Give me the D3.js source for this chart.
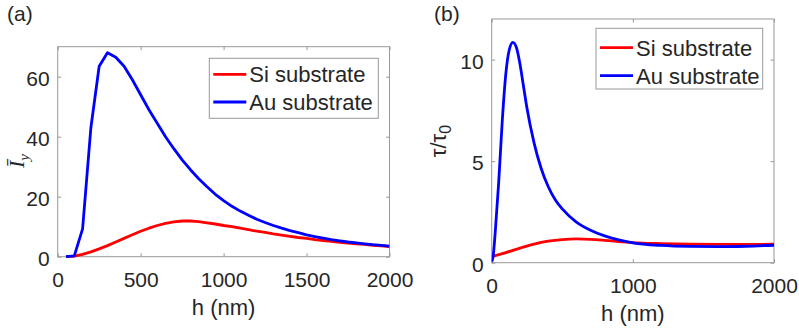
<!DOCTYPE html>
<html>
<head>
<meta charset="utf-8">
<script src="https://cdn.jsdelivr.net/npm/d3@7"></script>
<style>
  body { margin: 0; background: #fff; }
  text { font-family: "Liberation Sans", Arial, sans-serif; fill: #262626; }
</style>
</head>
<body>
<svg id="chart" width="799" height="333"></svg>
<script>
// Panel (a): integrated intensity vs thickness
const hA = [50, 100, 150, 200, 250, 300, 350, 400, 450, 500, 550, 600, 650, 700, 750, 800, 850, 900, 950, 1000,
            1050, 1100, 1150, 1200, 1250, 1300, 1350, 1400, 1450, 1500, 1550, 1600, 1650, 1700, 1750, 1800, 1850, 1900, 1950, 2000];
const siA = [0, 0.2, 0.8, 1.6, 2.6, 3.7, 4.9, 6.1, 7.3, 8.5, 9.5, 10.4, 11.1, 11.6, 11.9, 11.9, 11.7, 11.3, 10.9, 10.4,
             10.0, 9.5, 9.0, 8.5, 8.1, 7.6, 7.2, 6.8, 6.4, 6.1, 5.7, 5.4, 5.1, 4.8, 4.5, 4.3, 4.1, 3.8, 3.6, 3.4];
const auA = [0, 0.3, 9.3, 43, 63.5, 68, 66.5, 63.5, 59, 54, 49, 44.5, 40, 36, 32.3, 29, 26, 23.3, 20.8, 18.7,
             16.8, 15.2, 13.8, 12.5, 11.4, 10.4, 9.5, 8.7, 8.0, 7.3, 6.7, 6.2, 5.7, 5.3, 4.9, 4.6, 4.3, 4.0, 3.8, 3.5];

// Panel (b): lifetime ratio vs thickness
const hBsi = [0, 100, 200, 300, 400, 500, 600, 700, 800, 900, 1000, 1200, 1400, 1600, 1800, 2000];
const siB = [0.3, 0.5, 0.72, 0.92, 1.06, 1.14, 1.17, 1.15, 1.1, 1.04, 0.99, 0.94, 0.91, 0.9, 0.9, 0.91];
const hBau = [0, 10, 25, 50, 75, 100, 125, 150, 175, 200, 225, 250, 300, 350, 400, 450, 500, 600, 700, 800, 900, 1000,
              1200, 1400, 1600, 1800, 2000];
const auB = [0.05, 0.3, 1.5, 4.0, 7.0, 9.3, 10.5, 10.85, 10.6, 9.8, 8.7, 7.6, 5.9, 4.65, 3.75, 3.1, 2.65, 2.0, 1.6, 1.32, 1.12, 0.98,
             0.85, 0.8, 0.79, 0.81, 0.86];

const seriesNames = ["Si substrate", "Au substrate"];
const xTicksA = [0, 500, 1000, 1500, 2000];
const yTicksA = [0, 20, 40, 60];
const xTicksB = [0, 1000, 2000];
const yTicksB = [0, 5, 10];

const svg = d3.select("#chart");
const axisGray = "#999";

function drawPanel(p) {
  const x = d3.scaleLinear().domain(p.xDomain).range([p.left, p.right]);
  const y = d3.scaleLinear().domain(p.yDomain).range([p.bottom, p.top]);
  const g = svg.append("g");

  // box
  g.append("rect")
    .attr("x", p.left).attr("y", p.top)
    .attr("width", p.right - p.left).attr("height", p.bottom - p.top)
    .attr("fill", "none").attr("stroke", axisGray).attr("stroke-width", 1);

  const tl = 3.5;
  const styleAxis = sel => {
    sel.select(".domain").remove();
    sel.selectAll(".tick line").attr("stroke", axisGray);
  };

  // bottom + top
  g.append("g").attr("transform", `translate(0,${p.bottom})`)
    .call(d3.axisBottom(x).tickValues(p.xTicks).tickSize(-tl).tickSizeOuter(0).tickFormat(d3.format("d")))
    .call(styleAxis)
    .call(s => s.selectAll("text").attr("y", 30.5).attr("dy", null)
      .style("font-size", "21px").attr("font-family", null).attr("fill", "#262626"));
  g.append("g").attr("transform", `translate(0,${p.top})`)
    .call(d3.axisTop(x).tickValues(p.xTicks).tickSize(-tl).tickSizeOuter(0).tickFormat(""))
    .call(styleAxis);

  // left + right
  g.append("g").attr("transform", `translate(${p.left},0)`)
    .call(d3.axisLeft(y).tickValues(p.yTicks).tickSize(-tl).tickSizeOuter(0))
    .call(styleAxis)
    .call(s => s.selectAll("text").attr("x", -8).attr("dy", "0.4em")
      .style("font-size", "21px").attr("font-family", null).attr("fill", "#262626"));
  g.append("g").attr("transform", `translate(${p.right},0)`)
    .call(d3.axisRight(y).tickValues(p.yTicks).tickSize(-tl).tickSizeOuter(0).tickFormat(""))
    .call(styleAxis);

  // curves
  const clipId = "clip" + p.id;
  svg.append("clipPath").attr("id", clipId).append("rect")
    .attr("x", p.left).attr("y", p.top - 2).attr("width", p.right - p.left).attr("height", p.bottom - p.top + 4);

  p.series.forEach(s => {
    const line = d3.line().x(d => x(d[0])).y(d => y(d[1])).curve(p.curve);
    g.append("path")
      .datum(s.h.map((h, i) => [h, s.v[i]]))
      .attr("d", line)
      .attr("fill", "none")
      .attr("stroke", s.color)
      .attr("stroke-width", 2.8)
      .attr("stroke-linejoin", "round")
      .attr("clip-path", `url(#${clipId})`);
  });

  // legend
  const L = p.legend;
  const lg = g.append("g");
  lg.append("rect").attr("x", L.x).attr("y", L.y).attr("width", L.w).attr("height", L.h)
    .attr("fill", "#fff").attr("stroke", axisGray).attr("stroke-width", 1);
  p.series.forEach((s, i) => {
    const ry = L.y + L.row0 + i * L.gap;
    lg.append("line").attr("x1", L.x + 4).attr("x2", L.x + 37).attr("y1", ry).attr("y2", ry)
      .attr("stroke", s.color).attr("stroke-width", 2.8);
    lg.append("text").attr("x", L.x + 40).attr("y", ry + 8)
      .style("font-size", "22px").text(s.name);
  });

  // x label
  g.append("text").attr("x", (p.left + p.right) / 2).attr("y", p.bottom + 58.5)
    .attr("text-anchor", "middle").style("font-size", "22px").text("h (nm)");

  // panel tag
  g.append("text").attr("x", p.tag.x).attr("y", p.tag.y).style("font-size", "21px").text(p.tag.t);

  return g;
}

const gA = drawPanel({
  id: "A", left: 57.7, right: 389.5, top: 46.7, bottom: 256.7,
  xDomain: [0, 2000], yDomain: [0, 70], xTicks: xTicksA, yTicks: yTicksA,
  curve: d3.curveLinear,
  series: [
    { name: seriesNames[0], h: hA, v: siA, color: "#ff0000" },
    { name: seriesNames[1], h: hA, v: auA, color: "#0000ff" }
  ],
  legend: { x: 209.3, y: 58.3, w: 169, h: 60, row0: 16, gap: 27.7 },
  tag: { x: 7, y: 21, t: "(a)" }
});

const gB = drawPanel({
  id: "B", left: 491.7, right: 774, top: 19, bottom: 262.7,
  xDomain: [0, 2000], yDomain: [0, 12], xTicks: xTicksB, yTicks: yTicksB,
  curve: d3.curveMonotoneX,
  series: [
    { name: seriesNames[0], h: hBsi, v: siB, color: "#ff0000" },
    { name: seriesNames[1], h: hBau, v: auB, color: "#0000ff" }
  ],
  legend: { x: 596, y: 28.3, w: 166.7, h: 60.7, row0: 19.4, gap: 28 },
  tag: { x: 434, y: 21, t: "(b)" }
});

// y labels
const ylA = gA.append("text")
  .attr("transform", "translate(24,161) rotate(-90)")
  .attr("text-anchor", "middle")
  .style("font-family", "'Liberation Serif', 'DejaVu Serif', serif")
  .style("font-style", "italic")
  .style("font-size", "22px");
ylA.append("tspan").text("\u012A");
ylA.append("tspan").attr("dy", "0.3em").style("font-size", "15px").text("y");

const ylB = gB.append("text")
  .attr("transform", "translate(446,141) rotate(-90)")
  .attr("text-anchor", "middle")
  .style("font-size", "22px");
ylB.append("tspan").text("\u03C4/\u03C4");
ylB.append("tspan").attr("dy", "0.3em").style("font-size", "16px").text("0");
</script>
</body>
</html>
